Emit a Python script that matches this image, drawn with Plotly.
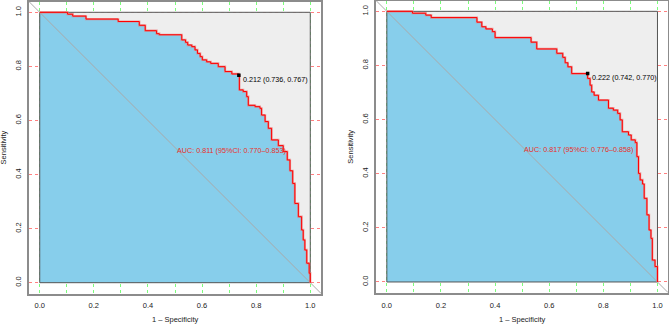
import plotly.graph_objects as go

# ---------------- data ----------------
left_x = [0, 0.103, 0.122, 0.171, 0.29, 0.368, 0.39, 0.432, 0.442, 0.525, 0.539, 0.547, 0.562,
          0.574, 0.583, 0.593, 0.601, 0.617, 0.632, 0.66, 0.685, 0.71, 0.736, 0.738, 0.752,
          0.765, 0.771, 0.796, 0.814, 0.82, 0.833, 0.845, 0.857, 0.882, 0.9, 0.915, 0.925,
          0.935, 0.943, 0.956, 0.968, 0.974, 0.98, 0.987, 0.996, 1.0]
left_y = [1.0, 0.993, 0.986, 0.975, 0.966, 0.952, 0.932, 0.921, 0.917, 0.898, 0.889, 0.879, 0.873,
          0.861, 0.848, 0.836, 0.824, 0.817, 0.811, 0.799, 0.781, 0.772, 0.767, 0.713, 0.707,
          0.688, 0.656, 0.651, 0.645, 0.62, 0.596, 0.571, 0.528, 0.507, 0.485, 0.454, 0.414,
          0.367, 0.293, 0.244, 0.195, 0.158, 0.121, 0.072, 0.035, 0.0]

right_x = [0, 0.095, 0.144, 0.164, 0.333, 0.351, 0.366, 0.39, 0.4, 0.533, 0.554, 0.628, 0.65,
           0.659, 0.669, 0.683, 0.742, 0.751, 0.757, 0.766, 0.782, 0.819, 0.837, 0.853, 0.862,
           0.87, 0.893, 0.903, 0.918, 0.924, 0.93, 0.936, 0.945, 0.951, 0.961, 0.969, 0.976,
           0.981, 0.991, 1.0]
right_y = [1.0, 0.993, 0.986, 0.977, 0.96, 0.943, 0.935, 0.925, 0.903, 0.886, 0.861, 0.845, 0.83,
           0.81, 0.795, 0.77, 0.752, 0.727, 0.702, 0.69, 0.672, 0.642, 0.635, 0.623, 0.599,
           0.555, 0.543, 0.525, 0.515, 0.463, 0.401, 0.377, 0.362, 0.309, 0.248, 0.192, 0.161,
           0.081, 0.057, 0.0]

thresholds = [(0.736, 0.767, "0.212 (0.736, 0.767)"), (0.742, 0.770, "0.222 (0.742, 0.770)")]
auc_labels = ["AUC: 0.811 (95%CI: 0.770\u20130.853)", "AUC: 0.817 (95%CI: 0.776\u20130.858)"]
x_ticks = [0, 0.2, 0.4, 0.6, 0.8, 1.0]
y_ticks = [0, 0.2, 0.4, 0.6, 0.8, 1.0]
x_title = "1 \u2013 Specificity"
y_title = "Sensitivity"

W, H = 669, 324
FONT = "Liberation Sans, Arial, Helvetica, sans-serif"
FS = 7.2

panels = [
    dict(xs=left_x, ys=left_y, fx=(28.9, 321.1), fy=(1.5, 293.5)),
    dict(xs=right_x, ys=right_y, fx=(376.0, 668.3), fy=(0.5, 292.8)),
]

fig = go.Figure()
layout = {}
annotations = []

for i, p in enumerate(panels):
    xa = "x" if i == 0 else f"x{i+1}"
    ya = "y" if i == 0 else f"y{i+1}"
    xkey = "xaxis" if i == 0 else f"xaxis{i+1}"
    ykey = "yaxis" if i == 0 else f"yaxis{i+1}"
    dom_x = [p["fx"][0] / W, p["fx"][1] / W]
    dom_y = [(H - p["fy"][1]) / H, (H - p["fy"][0]) / H]

    fig.add_trace(go.Scatter(x=[0, 1, 1, 0, 0], y=[0, 0, 1, 1, 0], mode="lines",
                             fill="toself", fillcolor="#EEEEEE", line=dict(width=0),
                             xaxis=xa, yaxis=ya, hoverinfo="skip", showlegend=False))
    fig.add_trace(go.Scatter(x=p["xs"], y=p["ys"], mode="lines", line_shape="hv",
                             fill="tozeroy", fillcolor="#87CEEB", line=dict(width=0),
                             xaxis=xa, yaxis=ya, hoverinfo="skip", showlegend=False))
    fig.add_trace(go.Scatter(x=[0, 1, 1, 0, 0], y=[0, 0, 1, 1, 0], mode="lines",
                             line=dict(color="#555555", width=1),
                             xaxis=xa, yaxis=ya, hoverinfo="skip", showlegend=False))
    fig.add_trace(go.Scatter(x=[-0.04, 1.04], y=[1.04, -0.04], mode="lines",
                             line=dict(color="#A9A9A9", width=1),
                             xaxis=xa, yaxis=ya, hoverinfo="skip", showlegend=False))
    fig.add_trace(go.Scatter(x=p["xs"], y=p["ys"], mode="lines", line_shape="hv",
                             line=dict(color="rgba(235,120,120,0.7)", width=2.2),
                             xaxis=xa, yaxis=ya, hoverinfo="skip", showlegend=False))
    fig.add_trace(go.Scatter(x=p["xs"], y=p["ys"], mode="lines", line_shape="hv",
                             line=dict(color="#FF0000", width=1),
                             xaxis=xa, yaxis=ya, hoverinfo="skip", showlegend=False))
    tx, ty, tlabel = thresholds[i]
    fig.add_trace(go.Scatter(x=[tx], y=[ty], mode="markers",
                             marker=dict(color="black", size=3.5, symbol="square"),
                             xaxis=xa, yaxis=ya, hoverinfo="skip", showlegend=False))
    annotations.append(dict(x=tx + 0.008, y=ty - 0.015, xref=xa, yref=ya, text=tlabel,
                            showarrow=False, xanchor="left", yanchor="middle",
                            font=dict(family=FONT, size=FS, color="black")))
    annotations.append(dict(x=0.5, y=0.49, xref=xa, yref=ya, text=auc_labels[i],
                            showarrow=False, xanchor="left", yanchor="middle",
                            font=dict(family=FONT, size=FS, color="#E8302A")))

    layout[xkey] = dict(domain=dom_x, range=[-0.04, 1.04], anchor=ya,
                        tickvals=x_ticks, ticktext=[f"{v:.1f}" for v in x_ticks],
                        showgrid=True, gridcolor="#7CFC7C", griddash="dot", gridwidth=1,
                        minor=dict(dtick=0.1, tick0=0, showgrid=True, gridcolor="#7CFC7C",
                                   griddash="dot", gridwidth=1),
                        zeroline=False, showline=True, mirror=True, linecolor="#8C8C8C",
                        linewidth=1.5, ticks="", ticklabelstandoff=4,
                        tickfont=dict(family=FONT, size=7.5, color="#222"))
    layout[ykey] = dict(domain=dom_y, range=[-0.04, 1.04], anchor=xa,
                        tickvals=y_ticks, ticktext=[f"{v:.1f}" for v in y_ticks],
                        showgrid=True, gridcolor="#FF8080", griddash="dot", gridwidth=1,
                        zeroline=False, showline=True, mirror=True, linecolor="#8C8C8C",
                        linewidth=1.5, ticks="", tickangle=-90, ticklabelstandoff=3,
                        tickfont=dict(family=FONT, size=7.5, color="#222"))

    cx = (p["fx"][0] + p["fx"][1]) / 2 / W
    annotations.append(dict(x=cx, y=(H - 319) / H, xref="paper", yref="paper", text=x_title,
                            showarrow=False, xanchor="center", yanchor="middle",
                            font=dict(family=FONT, size=7.5, color="#222")))
    cy = (H - (p["fy"][0] + p["fy"][1]) / 2) / H
    annotations.append(dict(x=(p["fx"][0] - 25) / W, y=cy, xref="paper", yref="paper",
                            text=y_title, textangle=-90,
                            showarrow=False, xanchor="center", yanchor="middle",
                            font=dict(family=FONT, size=7.5, color="#222")))

fig.update_layout(width=W, height=H, margin=dict(l=0, r=0, t=0, b=0),
                  paper_bgcolor="white", plot_bgcolor="white",
                  annotations=annotations, showlegend=False, **layout)

fig.write_html("out.html")
